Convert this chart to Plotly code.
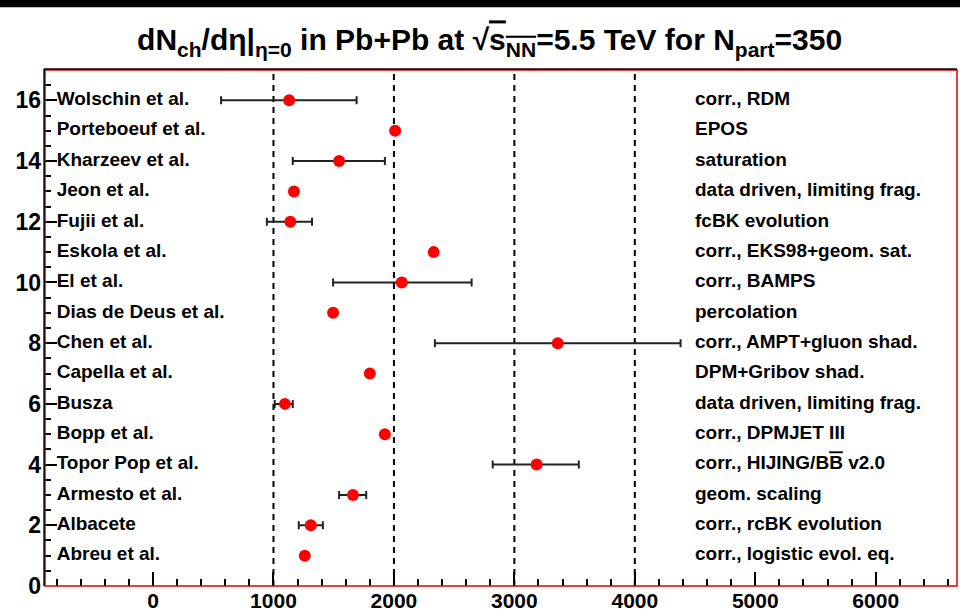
import numpy as np
import plotly.graph_objects as go

# ---- data ----
y_pos = list(range(16, 0, -1))
authors = ["Wolschin et al.", "Porteboeuf et al.", "Kharzeev et al.", "Jeon et al.",
           "Fujii et al.", "Eskola et al.", "El et al.", "Dias de Deus et al.",
           "Chen et al.", "Capella et al.", "Busza", "Bopp et al.",
           "Topor Pop et al.", "Armesto et al.", "Albacete", "Abreu et al."]
methods = ["corr., RDM", "EPOS", "saturation", "data driven, limiting frag.",
           "fcBK evolution", "corr., EKS98+geom. sat.", "corr., BAMPS", "percolation",
           "corr., AMPT+gluon shad.", "DPM+Gribov shad.", "data driven, limiting frag.",
           "corr., DPMJET III", "corr., HIJING/B<span style='text-decoration:overline'>B</span> v2.0",
           "geom. scaling", "corr., rcBK evolution", "corr., logistic evol. eq."]
values = [1130, 2010, 1545, 1170, 1140, 2330, 2065, 1495,
          3360, 1800, 1095, 1925, 3185, 1660, 1310, 1260]
err_lo = [565, None, 1160, None, 945, None, 1495, None,
          2340, None, 1010, None, 2820, 1545, 1210, None]
err_hi = [1690, None, 1925, None, 1320, None, 2645, None,
          4380, None, 1160, None, 3535, 1770, 1410, None]
guide_x = [1000, 2000, 3000, 4000]
x_ticks = [0, 1000, 2000, 3000, 4000, 5000, 6000]
y_ticks = list(range(0, 17, 2))
x_range = [-897, 6675]
y_range = [0, 17]
label_x_left = -800
label_x_right = 4500

FONT = "Liberation Sans, Arial, sans-serif"

# ---- figure ----
fig = go.Figure()

ex, ey, ep, em = [], [], [], []
nx, ny = [], []
for v, y, lo, hi in zip(values, y_pos, err_lo, err_hi):
    if lo is None:
        nx.append(v); ny.append(y)
    else:
        ex.append(v); ey.append(y); ep.append(hi - v); em.append(v - lo)

fig.add_trace(go.Scatter(
    x=ex, y=ey, mode="markers",
    marker=dict(color="#ff0000", size=12, line=dict(width=0)),
    error_x=dict(type="data", array=ep, arrayminus=em, symmetric=False,
                 color="#222222", thickness=2, width=4),
    showlegend=False, hoverinfo="skip"))
fig.add_trace(go.Scatter(
    x=nx, y=ny, mode="markers",
    marker=dict(color="#ff0000", size=12, line=dict(width=0)),
    showlegend=False, hoverinfo="skip"))

fig.add_trace(go.Scatter(
    x=[label_x_left] * len(authors), y=y_pos, mode="text",
    text=["<b>%s</b>" % a for a in authors],
    textposition="middle right",
    textfont=dict(family=FONT, size=19, color="black"),
    showlegend=False, hoverinfo="skip", cliponaxis=False))
fig.add_trace(go.Scatter(
    x=[label_x_right] * len(methods), y=y_pos, mode="text",
    text=["<b>%s</b>" % m for m in methods],
    textposition="middle right",
    textfont=dict(family=FONT, size=19, color="black"),
    showlegend=False, hoverinfo="skip", cliponaxis=False))

for gx in guide_x:
    fig.add_shape(type="line", xref="x", yref="paper", x0=gx, x1=gx, y0=0, y1=1,
                  line=dict(color="black", width=2, dash="6px,5px"), layer="below")

# frame
fig.add_shape(type="rect", xref="paper", yref="paper", x0=0, x1=1, y0=0, y1=1,
              line=dict(color="#dd0000", width=1.5), layer="above")
fig.add_shape(type="line", xref="paper", yref="paper", x0=-0.001, x1=-0.001, y0=0, y1=1.002,
              line=dict(color="black", width=1.5), layer="above")
fig.add_shape(type="line", xref="paper", yref="paper", x0=-0.001, x1=1.0, y0=1.002, y1=1.002,
              line=dict(color="black", width=1.5), layer="above")
# black band on top of canvas
fig.add_shape(type="rect", xref="paper", yref="paper", x0=-0.06, x1=1.02, y0=1.1215, y1=1.15,
              line=dict(width=0), fillcolor="black", layer="above")

title_txt = ("dN<sub>ch</sub>/d\u03b7|<sub>\u03b7=0</sub> in Pb+Pb at "
             "\u221a<span style='text-decoration:overline'>s<sub>NN</sub></span>=5.5 TeV "
             "for N<sub>part</sub>=350")

fig.update_layout(
    width=960, height=614,
    margin=dict(l=45, r=3, t=70, b=28),
    paper_bgcolor="white", plot_bgcolor="white",
    title=dict(text="<b>" + title_txt + "</b>", x=0.51, xref="container", xanchor="center",
               y=0.935, yref="container", yanchor="middle",
               font=dict(family=FONT, size=30, color="black")),
    xaxis=dict(range=x_range, showgrid=False, zeroline=False, showline=False,
               automargin=False,
               tickmode="array", tickvals=x_ticks,
               ticktext=["<b>%d</b>" % v for v in x_ticks],
               ticks="inside", ticklen=14, tickwidth=1.5, tickcolor="black",
               minor=dict(dtick=200, tick0=0, ticks="inside", ticklen=7, tickwidth=1.5,
                          tickcolor="black", showgrid=False),
               ticklabelstandoff=0,
               tickfont=dict(family=FONT, size=21, color="black")),
    yaxis=dict(range=y_range, showgrid=False, zeroline=False, showline=False,
               automargin=False,
               tickmode="array", tickvals=y_ticks,
               ticktext=["<b>%d</b>" % v for v in y_ticks],
               ticks="inside", ticklen=12, tickwidth=1.5, tickcolor="black",
               minor=dict(dtick=0.5, tick0=0, ticks="inside", ticklen=6, tickwidth=1.5,
                          tickcolor="black", showgrid=False),
               ticklabelstandoff=3,
               tickfont=dict(family=FONT, size=23, color="black")),
)

fig.write_html("out.html")
